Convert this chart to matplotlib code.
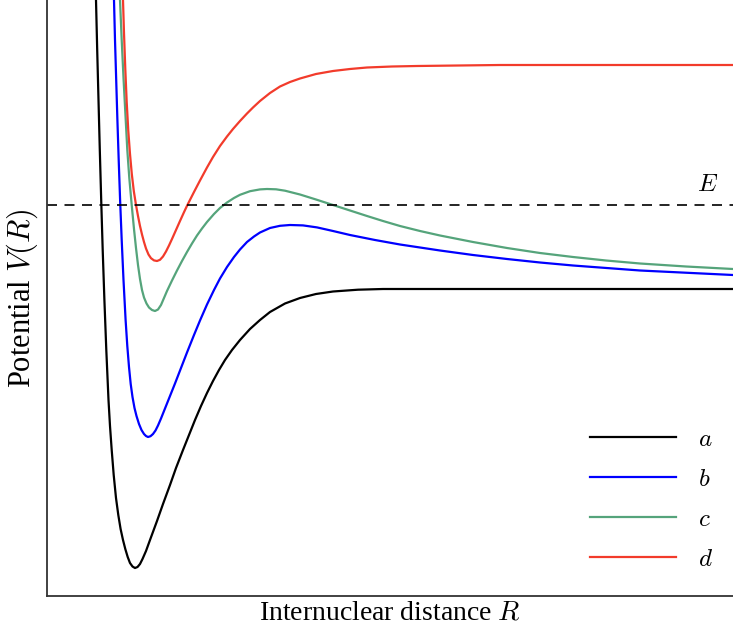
import matplotlib
matplotlib.use('Agg')
import matplotlib.pyplot as plt

plt.rcParams['font.family'] = ['Liberation Serif', 'DejaVu Serif']
plt.rcParams['mathtext.fontset'] = 'cm'

# values (arbitrary units, no ticks on the axes)
R_a = [49, 50.2, 51.5, 52.8, 54.2, 55.7, 57.4, 59.3, 61.5, 63, 64.7, 66.7, 69, 71.3,
       73.6, 76, 78.3, 80.7, 83, 85.5, 88, 90.5, 93, 95.5, 99, 103, 110, 116, 123, 129,
       136, 142, 148, 154, 160, 166, 172, 178, 185, 193, 203, 213, 223, 238, 253, 269,
       286, 311, 336, 403, 686]
V_a = [596, 546, 496, 446, 396, 346, 296, 246, 196, 170, 146, 121, 98, 81,
       67, 56, 47, 39, 33, 29.5, 28, 29, 32, 37, 45, 56, 75, 92, 111, 128,
       146, 161, 176, 190, 203, 215, 226, 236, 246, 256, 267, 276, 284, 292.5, 298, 302,
       304.5, 306.3, 307, 307, 307]

R_b = [67, 68, 69.2, 70.4, 71.7, 73.1, 74.7, 76.5, 78.6, 80.3, 82, 83.7, 85.5, 87.5,
       89.5, 92, 94.5, 97, 99, 101, 103.5, 106, 108.5, 111, 114, 118, 122, 128, 134,
       140, 147, 153, 160, 167, 173, 180, 187, 193, 200, 207, 213, 223, 233, 243, 256,
       270, 286, 303, 328, 353, 393, 426, 460, 493, 526, 593, 686]
V_b = [596, 556, 516, 476, 436, 396, 356, 316, 276, 250, 229, 212, 199, 188,
       180, 172, 166, 162, 160, 159, 159.8, 162, 165.5, 170.5, 177.5, 187.5, 197.5, 212.5, 228,
       243.5, 261, 275.5, 291.5, 306, 317.5, 329, 339, 346.5, 354, 359.5, 363.5, 368, 370.2, 371, 370.6,
       368.6, 365, 361, 356, 351.5, 345.5, 341, 337, 333.5, 330.5, 325.5, 321]

R_c = [73, 74.7, 76.5, 78.3, 80.3, 82.3, 84.7, 87, 89, 91, 93, 95, 97, 99.5, 102, 105,
       108, 111, 114, 117, 120, 125, 130, 135, 140, 145, 150, 155, 160, 167, 173, 180,
       187, 193, 203, 213, 220, 229, 238, 253, 269, 286, 303, 320, 336, 353, 373, 393,
       426, 460, 493, 526, 559, 593, 639, 686]
V_c = [596, 556, 518, 484, 446, 418, 391, 367, 348, 331, 317, 306, 298.5, 292.5, 288.5, 286,
       285, 286.5, 291, 298, 305, 315.5, 325.5, 335, 344, 352.5, 360.5, 367.5, 374, 382, 388, 393.5,
       398, 401.2, 404.8, 406.6, 407, 406.7, 405.3, 401.5, 396.5, 391, 385.5, 380, 375, 370, 365, 360.5,
       354, 348, 343, 339, 335.5, 332.5, 329.5, 327]

R_d = [76, 77, 78.3, 79.7, 81.3, 83, 84.8, 86.8, 89, 91, 93, 95, 97, 99, 101.5, 104,
       107, 110, 113, 116, 119, 122, 125, 129, 133, 137, 140, 147, 153, 160, 166, 173,
       180, 186, 193, 200, 206, 213, 223, 233, 243, 253, 269, 286, 303, 320, 345, 370,
       453, 686]
V_d = [596, 563, 527, 494, 465, 442, 422, 405, 391, 380, 370, 361.5, 354, 347.5, 341.5, 337.8,
       335.6, 335, 336.2, 339.5, 344.5, 350.5, 357, 366, 375, 383.8, 390.2, 404, 415.5, 428.5, 439, 450,
       459.5, 467, 475, 482.5, 488.5, 495, 503, 509.5, 514, 517.5, 522, 525, 527, 528.5, 529.5, 530,
       531, 531]

E_level = 391

curves = [(R_a, V_a, 'a', 'black'),
          (R_b, V_b, 'b', '#0000ff'),
          (R_c, V_c, 'c', '#55a47b'),
          (R_d, V_d, 'd', '#f23b2b')]

fig = plt.figure(figsize=(7.33, 6.26), dpi=100)
ax = fig.add_axes([47 / 733, 30 / 626, 1 - 47 / 733, 1 - 30 / 626])

for R, V, name, col in curves:
    ax.plot(R, V, color=col, lw=1.6, label=f'${name}$', solid_joinstyle='round')

ax.axhline(E_level, color='black', lw=1.2, ls=(0, (6, 4.5)))
ax.text(661, E_level + 9, '$E$', fontsize=18, ha='center', va='bottom')

ax.set_xlim(0, 686)
ax.set_ylim(0, 596)
ax.set_xticks([])
ax.set_yticks([])
for side in ['top', 'right']:
    ax.spines[side].set_visible(False)
for side in ['left', 'bottom']:
    ax.spines[side].set_linewidth(1.3)
    ax.spines[side].set_color('#333333')

ax.set_xlabel('Internuclear distance $R$', fontsize=20, labelpad=3)
ax.set_ylabel('Potential $V(R)$', fontsize=22, labelpad=5)

ax.legend(loc='lower right', bbox_to_anchor=(1, 0.008), frameon=False, fontsize=18,
          handlelength=3.44, handletextpad=0.9, labelspacing=0.7, borderaxespad=0.4)

fig.savefig('out.png', dpi=100)
